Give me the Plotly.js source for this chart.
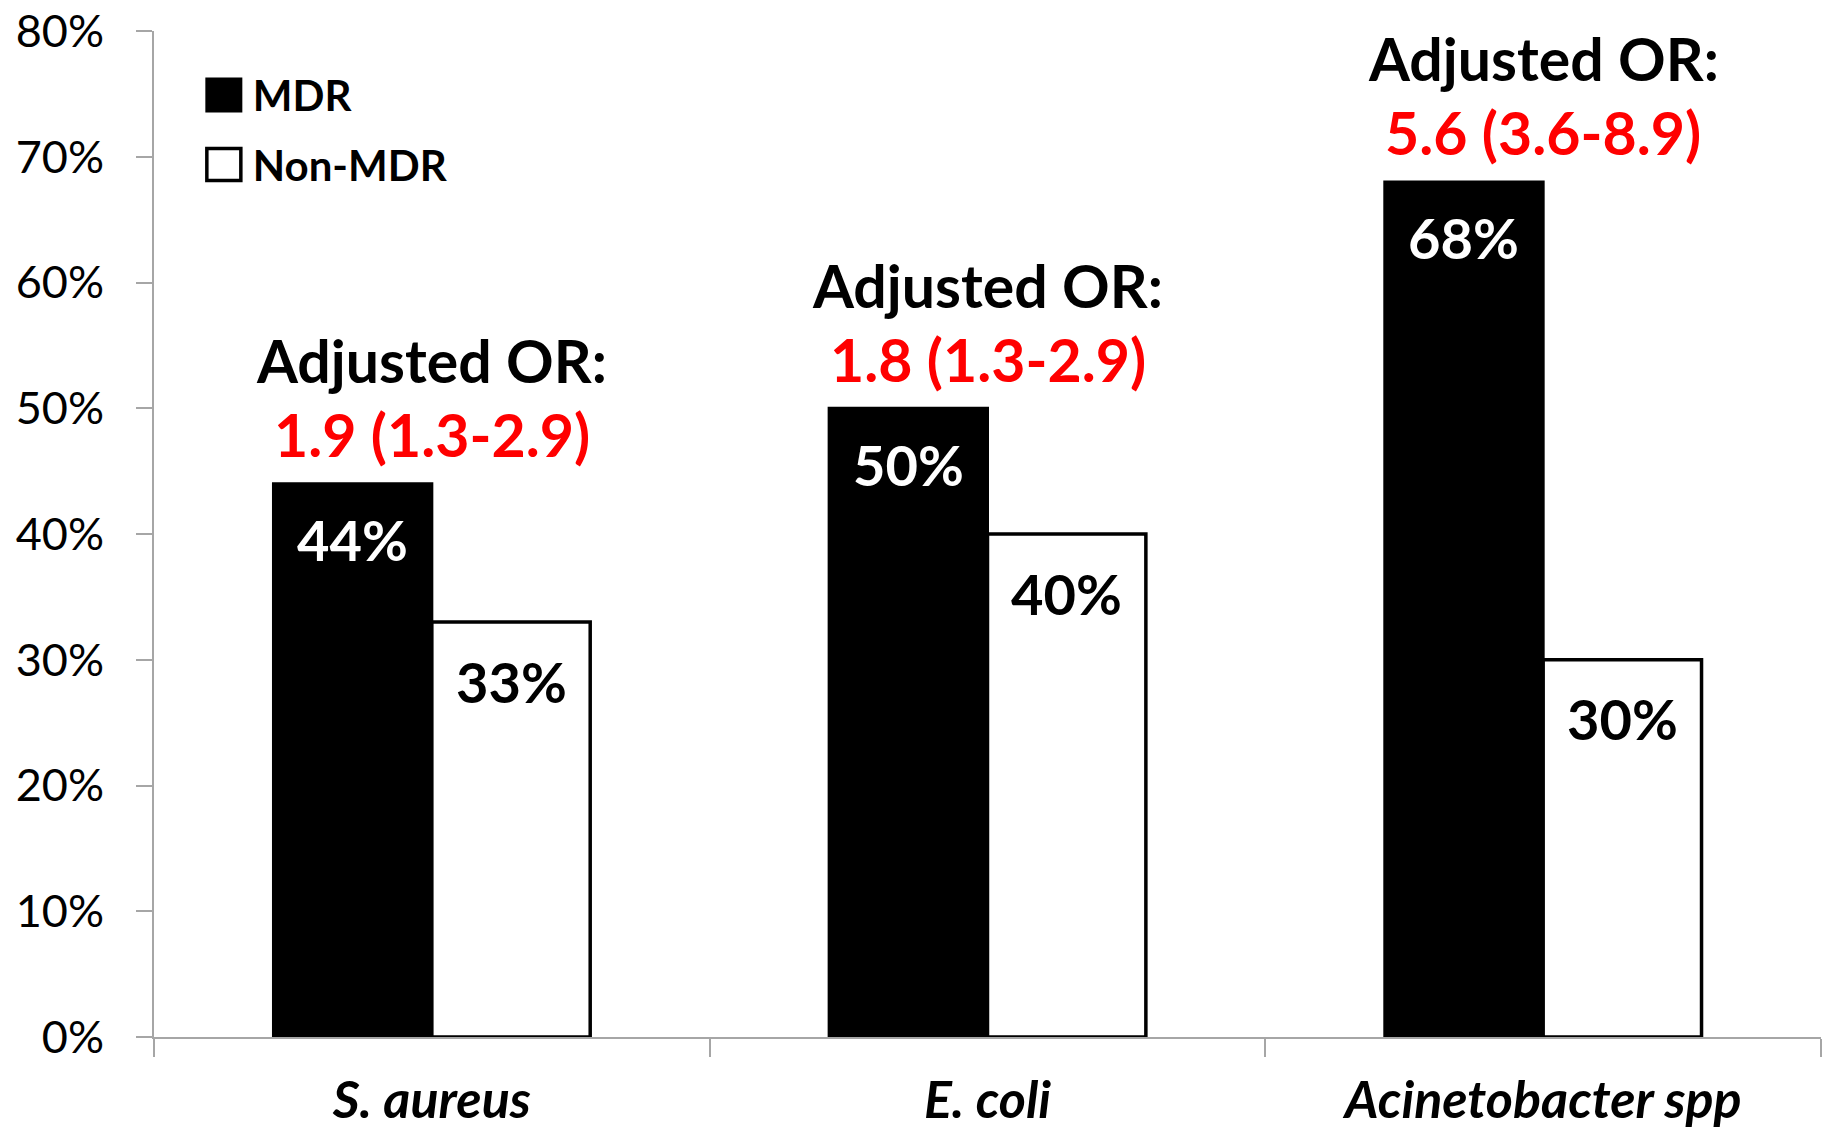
<!DOCTYPE html>
<html><head><meta charset="utf-8">
<script src="https://cdn.plot.ly/plotly-3.0.1.min.js"></script>
<style>html,body{margin:0;padding:0;background:#fff}#chart{width:1824px;height:1133px}</style>
</head><body><div id="chart"></div>
<script>
const categories = ['S. aureus', 'E. coli', 'Acinetobacter spp'];
const seriesNames = ['MDR', 'Non-MDR'];
const mdrValues = [44, 50, 68];
const nonMdrValues = [33, 40, 30];
const orHeading = ['Adjusted OR:', 'Adjusted OR:', 'Adjusted OR:'];
const orValues = ['1.9 (1.3-2.9)', '1.8 (1.3-2.9)', '5.6 (3.6-8.9)'];
const yTickValues = [0, 10, 20, 30, 40, 50, 60, 70, 80];
const yTickLabels = ['0%', '10%', '20%', '30%', '40%', '50%', '60%', '70%', '80%'];

const FONT = 'Lato, "Open Sans", sans-serif';
const bargap = 0.43;
const half = (1 - bargap) / 4;

const traces = [
  {type: 'bar', name: seriesNames[0], legendgroup: 'a', x: categories, y: mdrValues,
   marker: {color: '#000000', line: {color: '#000000', width: 3}}, hoverinfo: 'none'},
  {type: 'bar', name: seriesNames[1], legendgroup: 'b', x: categories, y: nonMdrValues,
   marker: {color: '#ffffff', line: {color: '#000000', width: 3.5}}, hoverinfo: 'none'}
];

const annotations = [];
categories.forEach((c, i) => {
  annotations.push({x: i - half, y: mdrValues[i], xref: 'x', yref: 'y', text: mdrValues[i] + '%',
    showarrow: false, yshift: -56, font: {family: FONT, size: 56, color: '#ffffff', weight: 'bold'}});
  annotations.push({x: i + half, y: nonMdrValues[i], xref: 'x', yref: 'y', text: nonMdrValues[i] + '%',
    showarrow: false, yshift: -59, font: {family: FONT, size: 56, color: '#000000', weight: 'bold'}});
  annotations.push({x: i, y: mdrValues[i], xref: 'x', yref: 'y', text: orValues[i],
    showarrow: false, yshift: 49, font: {family: FONT, size: 59, color: '#ff0000', weight: 'bold'}});
  annotations.push({x: i, y: mdrValues[i], xref: 'x', yref: 'y', text: orHeading[i],
    showarrow: false, yshift: 123, font: {family: FONT, size: 59, color: '#000000', weight: 'bold'}});
});

const layout = {
  width: 1824, height: 1133,
  margin: {l: 154, r: 3, t: 31, b: 96},
  paper_bgcolor: '#ffffff', plot_bgcolor: '#ffffff',
  barmode: 'group', bargap: bargap, bargroupgap: 0,
  showlegend: true,
  legend: {x: 0.0245, y: 0.970, xanchor: 'left', yanchor: 'top', bgcolor: 'rgba(0,0,0,0)',
    traceorder: 'grouped', tracegroupgap: 12, itemwidth: 48,
    font: {family: FONT, size: 42, color: '#000000', weight: 'bold'}},
  xaxis: {type: 'category', showline: true, linecolor: '#a6a6a6', linewidth: 2,
    ticks: 'outside', tickson: 'boundaries', ticklen: 18, tickcolor: '#a6a6a6', tickwidth: 2,
    showgrid: false, zeroline: false, ticklabelstandoff: 17,
    tickfont: {family: FONT, size: 52, color: '#000000', weight: 'bold', style: 'italic'}},
  yaxis: {range: [0, 80], tickvals: yTickValues, ticktext: yTickLabels,
    showline: true, linecolor: '#a6a6a6', linewidth: 2, ticks: 'outside', ticklen: 16,
    tickcolor: '#a6a6a6', tickwidth: 2, showgrid: false, zeroline: false,
    ticklabelstandoff: 23, ticklabeloverflow: 'allow',
    tickfont: {family: FONT, size: 45, color: '#000000'}},
  annotations: annotations
};

Plotly.newPlot('chart', traces, layout, {staticPlot: true}).then(() => {
  document.querySelectorAll('.legendpoints path').forEach(p => {
    p.setAttribute('d', 'M17,16H-17V-16H17Z');
  });
});
</script></body></html>
